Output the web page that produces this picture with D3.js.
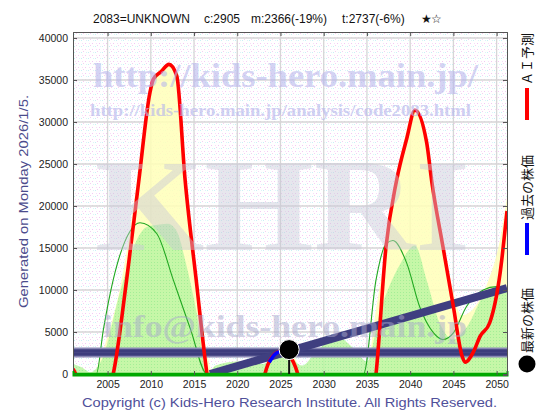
<!DOCTYPE html>
<html><head><meta charset="utf-8">
<script src="https://cdn.jsdelivr.net/npm/d3@7"></script>
<style>body{margin:0;background:#fff}svg{display:block}</style>
</head><body><div id="chart"></div>
<script>
// ---- data ----
const titleParts = ["2083=UNKNOWN", "c:2905", "m:2366(-19%)", "t:2737(-6%)", "★", "☆"];
const xTickYears = [2005, 2010, 2015, 2020, 2025, 2030, 2035, 2040, 2045, 2050];
const yTickValues = [0, 5000, 10000, 15000, 20000, 25000, 30000, 35000, 40000];

const redYears = [2001, 2001.6, 2003, 2004.5, 2005.65, 2007.2, 2008.6, 2009.9, 2010.3, 2011.2, 2012.1, 2013, 2013.95, 2015.25, 2016.5, 2018, 2020, 2022, 2023.2, 2024, 2025, 2026, 2027, 2028.5, 2031, 2034, 2036.05, 2037.2, 2038.4, 2039.6, 2040.55, 2041.9, 2042.5, 2043.8, 2045, 2046, 2046.35, 2047.3, 2048.1, 2049.2, 2050.4, 2051.2];
const redValues = [600, -600, -4000, -3000, 0, 11200, 22900, 33500, 35100, 36000, 36860, 35500, 23300, 11200, 0, -8000, -12000, -8000, 0, 2000, 2700, 2200, 0, -8000, -15000, -10000, 0, 15100, 22900, 28000, 31400, 27600, 22900, 15100, 8000, 2150, 1400, 2600, 4500, 6100, 12000, 19400];

const greenLineYears = [2001, 2003.7, 2004.5, 2005.65, 2007.6, 2008.75, 2010.7, 2012.6, 2014.6, 2016.5, 2020, 2025, 2030, 2034.6, 2036.05, 2037.2, 2038, 2039.6, 2041.1, 2042.7, 2043.8, 2045, 2046.5, 2048.45, 2050, 2051.2];
const greenLineValues = [0, 0, 5200, 11200, 17000, 18000, 16700, 11200, 5300, 0, 0, 0, 0, 0, 11200, 15500, 15900, 13200, 8000, 4900, 4100, 4900, 8000, 10000, 10400, 10000];

const greenAreaYears = [2001, 2002, 2003, 2004.5, 2006.4, 2008.4, 2009.5, 2011, 2012, 2013, 2014.1, 2015.3, 2016.5, 2017.5, 2020, 2023, 2024.5, 2026, 2027.5, 2029, 2031.5, 2033.5, 2035, 2036.5, 2038.8, 2040.55, 2041.9, 2043.4, 2045, 2046.5, 2048.8, 2051.2];
const greenAreaValues = [1200, 800, 200, 2100, 9600, 16000, 17500, 17800, 17900, 17000, 13000, 7300, 0, 1000, 1500, 1200, 2200, 2000, 1000, 2500, 4500, 3000, 1500, 7300, 13000, 15300, 11200, 6100, 4100, 5500, 9600, 10300];

const yellowYears = [2003.5, 2005, 2006.5, 2008, 2009.5, 2010.3, 2012.1, 2013, 2014, 2015.3, 2016.5, 2017.2, 2022.8, 2024, 2025, 2026.5, 2027.5, 2034.8, 2036.1, 2037.5, 2038.6, 2040.55, 2042, 2043, 2044.5, 2046, 2047.5, 2049, 2050.4, 2051.2];
const yellowValues = [0, 4500, 10500, 20000, 31500, 35100, 36860, 35500, 24000, 12000, 2500, 0, 0, 2200, 2900, 2300, 0, 0, 8000, 17000, 24000, 31400, 27000, 21000, 12000, 7000, 8000, 11000, 16000, 21000];

const pastYears = [2023.7, 2024.3, 2025, 2026];
const pastValues = [1400, 2300, 2700, 2905];

const trendYears = [2016.85, 2051.2];
const trendValues = [0, 10235];

const bandValues = [2366, 2737];
const latestYear = 2026;
const latestValue = 2905;

const legendLabels = ["ＡＩ予測", "過去の株価", "最新の株価"];
const watermarks = ["http://kids-hero.main.jp/", "http://kids-hero.main.jp/analysis/code2083.html", "KHRI", "info@kids-hero.main.jp"];
const sideText = "Generated on Monday 2026/1/5.";
const copyright = "Copyright (c) Kids-Hero Research Institute. All Rights Reserved.";

// ---- layout ----
const W = 560, H = 420;
const L = 73, R = 507, T = 32, B = 375;
const x = d3.scaleLinear().domain([2001, 2051.2]).range([L, R]);
const y = d3.scaleLinear().domain([-119, 40714]).range([B, T]);

const svg = d3.select("#chart").append("svg").attr("width", W).attr("height", H);
const defs = svg.append("defs");
const pat = defs.append("pattern").attr("id", "dots").attr("width", 7).attr("height", 6).attr("patternUnits", "userSpaceOnUse");
pat.append("rect").attr("width", 7).attr("height", 6).attr("fill", "#fff");
[[1,1,"#f4c8f4"],[4,4,"#c8f0f6"],[5,1,"#f8dcf8"],[2,4,"#dcf4f8"],[6,3,"#f4d0f2"]].forEach(([a,b,c]) =>
  pat.append("rect").attr("x", a).attr("y", b).attr("width", 1).attr("height", 1).attr("fill", c));
const gpat = defs.append("pattern").attr("id", "gdots").attr("width", 3).attr("height", 3).attr("patternUnits", "userSpaceOnUse");
gpat.append("rect").attr("width", 3).attr("height", 3).attr("fill", "#bef6a4");
gpat.append("rect").attr("x", 1).attr("y", 1).attr("width", 1).attr("height", 1).attr("fill", "#98ec90");
defs.append("clipPath").attr("id", "clip").append("rect").attr("x", L).attr("y", T).attr("width", R - L).attr("height", B - T);

// background
svg.append("rect").attr("x", L).attr("y", T).attr("width", R - L).attr("height", B - T).attr("fill", "url(#dots)");

// grid
const grid = svg.append("g").attr("stroke", "#d6d6d6").attr("stroke-width", 1.3);
xTickYears.forEach(v => grid.append("line").attr("x1", x(v)).attr("x2", x(v)).attr("y1", T).attr("y2", B));
yTickValues.forEach(v => grid.append("line").attr("x1", L).attr("x2", R).attr("y1", y(v)).attr("y2", y(v)));

const plot = svg.append("g").attr("clip-path", "url(#clip)");
const zip = (xs, vs) => xs.map((d, i) => [d, vs[i]]);

// yellow area
plot.append("path").datum(zip(yellowYears, yellowValues))
  .attr("d", d3.area().x(d => x(d[0])).y0(y(0)).y1(d => y(d[1])).curve(d3.curveMonotoneX))
  .attr("fill", "#ffffb8").attr("opacity", 0.85);
// green area
plot.append("path").datum(zip(greenAreaYears, greenAreaValues))
  .attr("d", d3.area().x(d => x(d[0])).y0(y(0)).y1(d => y(d[1])).curve(d3.curveMonotoneX))
  .attr("fill", "url(#gdots)").attr("opacity", 0.88);

// watermarks
const wm = svg.append("g").attr("font-family", "'Liberation Serif','DejaVu Serif',serif").attr("font-weight", "bold");
wm.append("text").attr("x", 93).attr("y", 87).attr("font-size", 34).attr("textLength", 385).attr("lengthAdjust", "spacingAndGlyphs")
  .attr("fill", "#b8b8ec").attr("opacity", 0.6).text(watermarks[0]);
wm.append("text").attr("x", 90).attr("y", 116).attr("font-size", 16).attr("textLength", 381).attr("lengthAdjust", "spacingAndGlyphs")
  .attr("fill", "#b8b8ec").attr("opacity", 0.65).text(watermarks[1]);
wm.append("text").attr("x", 95).attr("y", 250).attr("font-size", 131).attr("textLength", 375).attr("lengthAdjust", "spacingAndGlyphs")
  .attr("fill", "#c8c8d8").attr("opacity", 0.45).text(watermarks[2]);
wm.append("text").attr("x", 103).attr("y", 337).attr("font-size", 32).attr("textLength", 364).attr("lengthAdjust", "spacingAndGlyphs")
  .attr("fill", "#a8a8cc").attr("opacity", 0.5).text(watermarks[3]);

// green line
plot.append("path").datum(zip(greenLineYears, greenLineValues))
  .attr("d", d3.line().x(d => x(d[0])).y(d => y(d[1])).curve(d3.curveMonotoneX))
  .attr("fill", "none").attr("stroke", "#20a820").attr("stroke-width", 1.1);

// band (m / t)
const bandMid = d3.mean(bandValues);
plot.append("line").attr("x1", L).attr("x2", R).attr("y1", y(bandMid)).attr("y2", y(bandMid))
  .attr("stroke", "#8888b4").attr("stroke-width", 10);
bandValues.forEach(v => plot.append("line").attr("x1", L).attr("x2", R).attr("y1", y(v)).attr("y2", y(v))
  .attr("stroke", "#3c3c7c").attr("stroke-width", 3.4));

// trend line
plot.append("path").datum(zip(trendYears, trendValues))
  .attr("d", d3.line().x(d => x(d[0])).y(d => y(d[1])))
  .attr("stroke", "#3f3f80").attr("stroke-width", 8).attr("fill", "none");

// red prediction
plot.append("path").datum(zip(redYears, redValues))
  .attr("d", d3.line().x(d => x(d[0])).y(d => y(d[1])).curve(d3.curveMonotoneX))
  .attr("fill", "none").attr("stroke", "#ff0000").attr("stroke-width", 3.6).attr("stroke-linejoin", "round");

// baseline
svg.append("line").attr("x1", L).attr("x2", R).attr("y1", y(0)).attr("y2", y(0)).attr("stroke", "#00a800").attr("stroke-width", 2.5);

// past price
plot.append("path").datum(zip(pastYears, pastValues))
  .attr("d", d3.line().x(d => x(d[0])).y(d => y(d[1])).curve(d3.curveMonotoneX))
  .attr("fill", "none").attr("stroke", "#0000ff").attr("stroke-width", 3.5);

// latest
svg.append("line").attr("x1", x(latestYear)).attr("x2", x(latestYear)).attr("y1", y(latestValue)).attr("y2", y(0))
  .attr("stroke", "#111").attr("stroke-width", 2);
svg.append("circle").attr("cx", x(latestYear)).attr("cy", y(latestValue)).attr("r", 10)
  .attr("fill", "#000").attr("stroke", "#fff").attr("stroke-width", 1);

// axes
const fmt = d3.format("d");
const axL = svg.append("g").attr("transform", `translate(${L},0)`)
  .call(d3.axisLeft(y).tickValues(yTickValues).tickFormat(fmt).tickSize(-4).tickPadding(5));
const axB = svg.append("g").attr("transform", `translate(0,${B})`)
  .call(d3.axisBottom(x).tickValues(xTickYears).tickFormat(fmt).tickSize(-4).tickPadding(6));
const axT = svg.append("g").attr("transform", `translate(0,${T})`)
  .call(d3.axisTop(x).tickValues(xTickYears).tickFormat("").tickSize(-4));
const axR = svg.append("g").attr("transform", `translate(${R},0)`)
  .call(d3.axisRight(y).tickValues(yTickValues).tickFormat("").tickSize(-4));
[axL, axB, axT, axR].forEach(a => {
  a.selectAll("path.domain").attr("stroke", "#555");
  a.selectAll(".tick line").attr("stroke", "#555");
  a.selectAll("text").attr("fill", "#222").attr("font-family", "'Liberation Sans',Arial,sans-serif").attr("font-size", 10.5);
});
axB.select("path.domain").attr("stroke", "#00a800").attr("stroke-width", 2);

// title
const tx = [93, 204, 251, 342, 421, 431];
const title = svg.append("g").attr("font-family", "'Liberation Sans','DejaVu Sans',sans-serif").attr("font-size", 12).attr("fill", "#111");
titleParts.forEach((t, i) => title.append("text").attr("x", tx[i]).attr("y", 23)
  .attr("font-family", i >= 4 ? "'DejaVu Sans',sans-serif" : null).attr("font-size", i >= 4 ? 12 : null).text(t));

// side text
svg.append("text").attr("transform", "translate(28,308) rotate(-90)")
  .attr("font-family", "'Liberation Sans','DejaVu Sans',sans-serif").attr("font-size", 13)
  .attr("textLength", 213).attr("lengthAdjust", "spacingAndGlyphs").attr("fill", "#4c4c8c").text(sideText);

// copyright
svg.append("text").attr("x", 82).attr("y", 407)
  .attr("font-family", "'Liberation Sans','DejaVu Sans',sans-serif").attr("font-size", 13)
  .attr("textLength", 415).attr("lengthAdjust", "spacingAndGlyphs").attr("fill", "#50509a").text(copyright);

// legend
const lg = svg.append("g").attr("font-family", "'Noto Sans CJK JP',sans-serif").attr("font-size", 13).attr("fill", "#111");
const legendBottoms = [85, 220, 353];
legendLabels.forEach((t, i) => lg.append("text").attr("transform", `translate(532,${legendBottoms[i]}) rotate(-90)`).text(t));
svg.append("line").attr("x1", 527).attr("x2", 527).attr("y1", 88).attr("y2", 120).attr("stroke", "#ff0000").attr("stroke-width", 4);
svg.append("line").attr("x1", 527).attr("x2", 527).attr("y1", 223).attr("y2", 255).attr("stroke", "#0000ff").attr("stroke-width", 4);
svg.append("circle").attr("cx", 527).attr("cy", 364).attr("r", 8.5).attr("fill", "#000");
</script></body></html>
